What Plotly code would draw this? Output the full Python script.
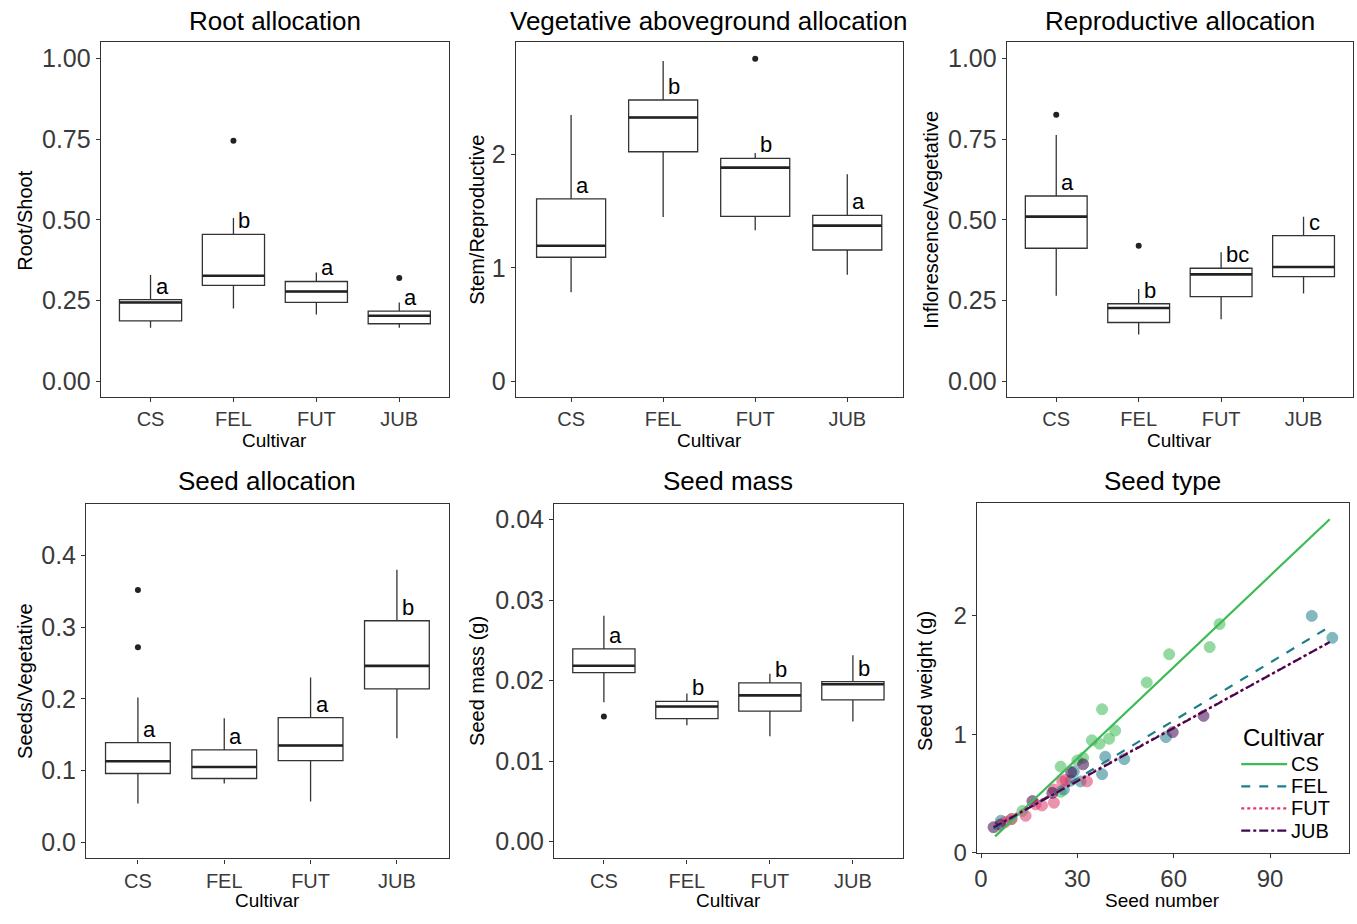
import plotly.graph_objects as go

W, H = 1357, 924
FONT = "Liberation Sans, Arial, sans-serif"
INK = "#333333"
TICK = "#3a3a3a"

cultivars = ["CS", "FEL", "FUT", "JUB"]

# ---- Panel 1: Root allocation (Root/Shoot)
root_low = [0.166, 0.225, 0.207, 0.166]
root_q1 = [0.187, 0.297, 0.244, 0.178]
root_med = [0.244, 0.327, 0.278, 0.203]
root_q3 = [0.253, 0.455, 0.309, 0.217]
root_up = [0.329, 0.506, 0.337, 0.244]
root_out_x = ["FEL", "JUB"]
root_out_y = [0.745, 0.320]
root_letters = ["a", "b", "a", "a"]

# ---- Panel 2: Vegetative aboveground allocation (Stem/Reproductive)
veg_low = [0.785, 1.447, 1.331, 0.939]
veg_q1 = [1.093, 2.023, 1.453, 1.157]
veg_med = [1.194, 2.325, 1.883, 1.372]
veg_q3 = [1.607, 2.479, 1.964, 1.462]
veg_up = [2.348, 2.822, 2.011, 1.825]
veg_out_x = ["FUT"]
veg_out_y = [2.842]
veg_letters = ["a", "b", "b", "a"]

# ---- Panel 3: Reproductive allocation (Inflorescence/Vegetative)
rep_low = [0.265, 0.145, 0.192, 0.272]
rep_q1 = [0.412, 0.182, 0.262, 0.324]
rep_med = [0.510, 0.227, 0.331, 0.354]
rep_q3 = [0.574, 0.240, 0.350, 0.451]
rep_up = [0.763, 0.286, 0.400, 0.510]
rep_out_x = ["CS", "FEL"]
rep_out_y = [0.826, 0.420]
rep_letters = ["a", "b", "bc", "c"]

# ---- Panel 4: Seed allocation (Seeds/Vegetative)
sa_low = [0.054, 0.082, 0.057, 0.145]
sa_q1 = [0.096, 0.089, 0.114, 0.214]
sa_med = [0.113, 0.105, 0.135, 0.246]
sa_q3 = [0.139, 0.129, 0.174, 0.309]
sa_up = [0.202, 0.173, 0.230, 0.380]
sa_out_x = ["CS", "CS"]
sa_out_y = [0.352, 0.272]
sa_letters = ["a", "a", "a", "b"]

# ---- Panel 5: Seed mass (g)
sm_low = [0.0173, 0.01444, 0.01309, 0.01493]
sm_q1 = [0.02098, 0.01526, 0.0162, 0.01759]
sm_med = [0.02184, 0.01677, 0.01816, 0.01955]
sm_q3 = [0.02393, 0.01742, 0.01971, 0.01988]
sm_up = [0.02806, 0.0184, 0.02086, 0.02315]
sm_out_x = ["CS"]
sm_out_y = [0.01554]
sm_letters = ["a", "b", "b", "b"]

# ---- Panel 6: Seed type (seed number vs seed weight)
cs_n = [74.3, 71.2, 58.6, 51.6, 37.7, 41.8, 39.9, 36.9, 31.8, 24.8, 24.8, 12.9, 9.5, 34.5, 30.0]
cs_w = [1.931, 1.737, 1.676, 1.438, 1.212, 1.032, 0.963, 0.921, 0.802, 0.728, 0.515, 0.354, 0.285, 0.95, 0.78]
fel_n = [103.0, 109.4, 57.6, 38.7, 44.6, 37.7, 31.0, 27.9, 28.9, 25.8, 6.2]
fel_w = [2.000, 1.815, 0.977, 0.811, 0.791, 0.664, 0.603, 0.609, 0.686, 0.534, 0.271]
fut_n = [33.0, 26.3, 22.7, 22.7, 17.0, 13.9, 9.5, 25.3, 7.5, 19.0]
fut_w = [0.603, 0.617, 0.423, 0.534, 0.409, 0.313, 0.285, 0.603, 0.26, 0.40]
jub_n = [31.8, 28.1, 22.2, 16.0, 59.7, 69.3, 6.0, 3.9]
jub_w = [0.747, 0.680, 0.506, 0.437, 1.018, 1.156, 0.238, 0.216]
# fitted lines (start/end)
fit_x0 = [4.4, 3.9, 3.9, 3.9]
fit_x1 = [108.6, 108.6, 108.6, 108.6]
fit_y0 = [0.139, 0.20, 0.225, 0.215]
fit_y1 = [2.816, 1.909, 1.779, 1.779]

colors = {"CS": "#3dbb55", "FEL": "#1e7f8c", "FUT": "#dc3a6b", "JUB": "#40094f"}
dashes = {"CS": "solid", "FEL": "dash", "FUT": "dot", "JUB": "dashdot"}

fig = go.Figure()


def fx(px):
    return px / W


def fy(py):
    return 1 - py / H


def px_dom_x(a, b):
    return [fx(a), fx(b)]


def px_dom_y(top, bottom):
    return [fy(bottom), fy(top)]


BOX_W = 0.75


def add_box_panel(idx, low, q1, med, q3, up, out_x, out_y, letters):
    xa = "x" if idx == 1 else f"x{idx}"
    ya = "y" if idx == 1 else f"y{idx}"
    pos = list(range(len(cultivars)))
    fig.add_trace(go.Box(
        x=pos, q1=q1, median=med, q3=q3, lowerfence=low, upperfence=up,
        width=BOX_W, whiskerwidth=0, fillcolor="white",
        line=dict(color=INK, width=1.3), boxpoints=False,
        xaxis=xa, yaxis=ya, showlegend=False, hoverinfo="skip"))
    # thicker median segments (ggplot fatten)
    for i, m in enumerate(med):
        fig.add_trace(go.Scatter(
            x=[i - BOX_W / 2, i + BOX_W / 2], y=[m, m], mode="lines",
            line=dict(color="#222222", width=2.6), xaxis=xa, yaxis=ya,
            showlegend=False, hoverinfo="skip"))
    fig.add_trace(go.Scatter(
        x=[cultivars.index(c) for c in out_x], y=out_y, mode="markers",
        marker=dict(color="#222222", size=6), xaxis=xa, yaxis=ya,
        showlegend=False, hoverinfo="skip"))
    for i, (l, q) in enumerate(zip(letters, q3)):
        fig.add_annotation(
            x=i, y=q, xref=xa, yref=ya, text=l, showarrow=False,
            xanchor="left", yanchor="bottom", xshift=3, yshift=-1,
            font=dict(family=FONT, size=22, color="black"))


add_box_panel(1, root_low, root_q1, root_med, root_q3, root_up, root_out_x, root_out_y, root_letters)
add_box_panel(2, veg_low, veg_q1, veg_med, veg_q3, veg_up, veg_out_x, veg_out_y, veg_letters)
add_box_panel(3, rep_low, rep_q1, rep_med, rep_q3, rep_up, rep_out_x, rep_out_y, rep_letters)
add_box_panel(4, sa_low, sa_q1, sa_med, sa_q3, sa_up, sa_out_x, sa_out_y, sa_letters)
add_box_panel(5, sm_low, sm_q1, sm_med, sm_q3, sm_up, sm_out_x, sm_out_y, sm_letters)

# Panel 6 scatter + fitted lines
groups = [("CS", cs_n, cs_w), ("FEL", fel_n, fel_w), ("FUT", fut_n, fut_w), ("JUB", jub_n, jub_w)]
for name, xs, ys in groups:
    fig.add_trace(go.Scatter(
        x=xs, y=ys, mode="markers", xaxis="x6", yaxis="y6", showlegend=False,
        marker=dict(color=colors[name], size=11, opacity=0.55,
                    line=dict(color=colors[name], width=1)),
        hoverinfo="skip"))
for k, (name, _, _) in enumerate(groups):
    fig.add_trace(go.Scatter(
        x=[fit_x0[k], fit_x1[k]], y=[fit_y0[k], fit_y1[k]], mode="lines",
        xaxis="x6", yaxis="y6", name=name, showlegend=False,
        line=dict(color=colors[name], width=2.2, dash=dashes[name])))

# Axes
tickfont = dict(family=FONT, size=25, color=TICK)
xtickfont = dict(family=FONT, size=20, color=TICK)
common = dict(showline=True, mirror=True, linecolor=INK, linewidth=1.2,
              ticks="outside", ticklen=4, tickcolor=INK, showgrid=False,
              zeroline=False)

panels = {
    1: dict(dx=(98, 447), dy=(43, 403), yr=[-0.05, 1.05], yt=[0, 0.25, 0.5, 0.75, 1.0], fmt=".2f"),
    2: dict(dx=(514, 901.5), dy=(43, 403), yr=[-0.142, 2.987], yt=[0, 1, 2], fmt="d"),
    3: dict(dx=(1006, 1353), dy=(43, 403), yr=[-0.05, 1.05], yt=[0, 0.25, 0.5, 0.75, 1.0], fmt=".2f"),
    4: dict(dx=(83.3, 446.7), dy=(510.7, 870.7), yr=[-0.0225, 0.4725], yt=[0, 0.1, 0.2, 0.3, 0.4], fmt=".1f"),
    5: dict(dx=(552.3, 901.7), dy=(510.7, 870.7), yr=[-0.0021, 0.042], yt=[0, 0.01, 0.02, 0.03, 0.04], fmt=".2f"),
}
layout = {}
for i, p in panels.items():
    xk = "xaxis" if i == 1 else f"xaxis{i}"
    yk = "yaxis" if i == 1 else f"yaxis{i}"
    ya = "y" if i == 1 else f"y{i}"
    xa = "x" if i == 1 else f"x{i}"
    layout[xk] = dict(domain=px_dom_x(*p["dx"]), anchor=ya, range=[-0.6, 3.6],
                      tickvals=[0, 1, 2, 3], ticktext=cultivars, tickfont=xtickfont, **common)
    layout[yk] = dict(domain=px_dom_y(*p["dy"]), anchor=xa, range=p["yr"],
                      tickvals=p["yt"], tickformat=p["fmt"], tickfont=tickfont, **common)

layout["xaxis6"] = dict(domain=px_dom_x(976, 1349), anchor="y6", range=[-1.3, 114.6],
                        tickvals=[0, 30, 60, 90], tickfont=dict(family=FONT, size=24, color=TICK), **common)
layout["yaxis6"] = dict(domain=px_dom_y(510.5, 865.5), anchor="x6", range=[-0.004, 2.95],
                        tickvals=[0, 1, 2], tickfont=dict(family=FONT, size=24, color=TICK), **common)

fig.update_layout(**layout)

# Titles and axis titles as annotations
titles = [
    ("Root allocation", (98 + 447) / 2, 21),
    ("Vegetative aboveground allocation", (514 + 901.5) / 2, 21),
    ("Reproductive allocation", (1006 + 1353) / 2, 21),
    ("Seed allocation", (83.3 + 446.7) / 2, 488),
    ("Seed mass", (552.3 + 901.7) / 2, 488),
    ("Seed type", (976 + 1349) / 2, 488),
]
for t, cx, cy in titles:
    fig.add_annotation(x=fx(cx), y=fy(cy), xref="paper", yref="paper", text=t,
                       showarrow=False, xanchor="center", yanchor="middle",
                       font=dict(family=FONT, size=26, color="black"))

xtitles = [
    ("Cultivar", (98 + 447) / 2, 446.5),
    ("Cultivar", (514 + 901.5) / 2, 446.5),
    ("Cultivar", (1006 + 1353) / 2, 446.5),
    ("Cultivar", (83.3 + 446.7) / 2, 913),
    ("Cultivar", (552.3 + 901.7) / 2, 913),
    ("Seed number", (976 + 1349) / 2, 913),
]
for t, cx, cy in xtitles:
    fig.add_annotation(x=fx(cx), y=fy(cy), xref="paper", yref="paper", text=t,
                       showarrow=False, xanchor="center", yanchor="middle", height=18,
                       font=dict(family=FONT, size=19, color="black"))

ytitles = [
    ("Root/Shoot", 22, 223),
    ("Stem/Reproductive", 475, 223),
    ("Inflorescence/Vegetative", 930, 223),
    ("Seeds/Vegetative", 22, 690.7),
    ("Seed mass (g)", 475, 690.7),
    ("Seed weight (g)", 924, 690.7),
]
for t, cx, cy in ytitles:
    fig.add_annotation(x=fx(cx), y=fy(cy), xref="paper", yref="paper", text=t,
                       showarrow=False, xanchor="center", yanchor="middle", textangle=-90,
                       font=dict(family=FONT, size=20, color="black"))

# Legend for the Seed type panel (compact, ggplot-like spacing)
leg_title_y = 748
leg_item_y = [775, 797.5, 820, 842.5]
leg_x0, leg_x1, leg_tx = 1241, 1287, 1289
fig.add_annotation(x=fx(leg_x0), y=fy(leg_title_y), xref="paper", yref="paper",
                   text="Cultivar", showarrow=False, xanchor="left", yanchor="middle",
                   font=dict(family=FONT, size=24, color="black"))
for name, yy in zip(cultivars, leg_item_y):
    fig.add_shape(type="line", xref="paper", yref="paper",
                  x0=fx(leg_x0), x1=fx(leg_x1), y0=fy(yy), y1=fy(yy),
                  line=dict(color=colors[name], width=2.2, dash=dashes[name]))
    fig.add_annotation(x=fx(leg_tx), y=fy(yy), xref="paper", yref="paper",
                       text=name, showarrow=False, xanchor="left", yanchor="middle",
                       height=20, font=dict(family=FONT, size=20, color="black"))

fig.update_layout(
    width=W, height=H, margin=dict(l=0, r=0, t=0, b=0),
    paper_bgcolor="white", plot_bgcolor="white", showlegend=False,
)

fig.write_html("out.html", config={"displayModeBar": False},
               post_script="document.body.style.margin='0';")
